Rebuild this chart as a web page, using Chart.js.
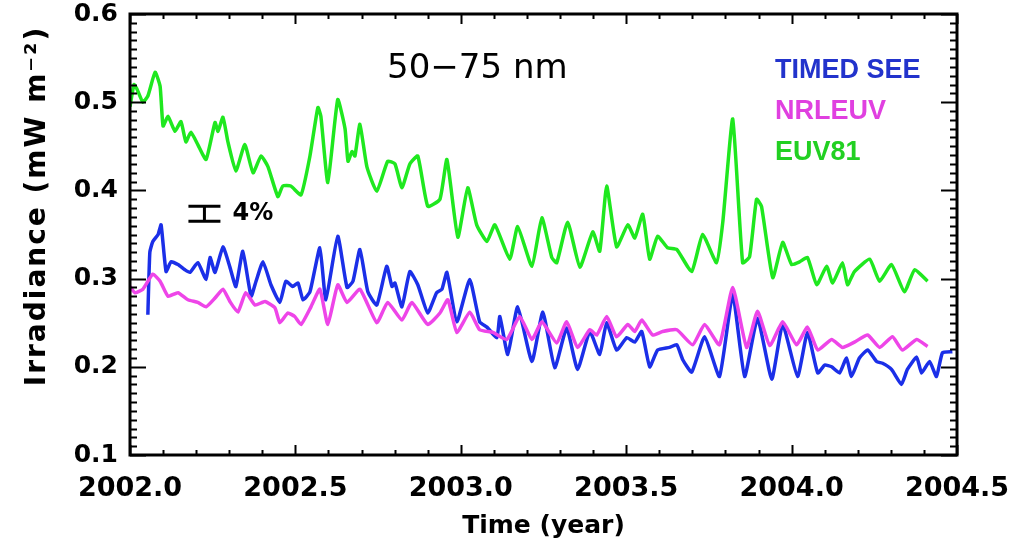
<!DOCTYPE html>
<html>
<head>
<meta charset="utf-8">
<script src="https://cdn.jsdelivr.net/npm/chart.js@4.4.1/dist/chart.umd.min.js"></script>
<style>
  html, body { margin: 0; padding: 0; background: #fff; }
  canvas { display: block; }
</style>
</head>
<body>
<canvas id="irrChart" width="1026" height="545"></canvas>
<script>
// TIMED SEE (blue)
const seeYears = [2002.054, 2002.060, 2002.069, 2002.085, 2002.094, 2002.109, 2002.124, 2002.145, 2002.166, 2002.181,
  2002.205, 2002.230, 2002.242, 2002.257, 2002.281, 2002.302, 2002.320, 2002.341, 2002.366, 2002.381,
  2002.402, 2002.426, 2002.453, 2002.471, 2002.492, 2002.508, 2002.523, 2002.544, 2002.574, 2002.592,
  2002.628, 2002.656, 2002.674, 2002.695, 2002.719, 2002.746, 2002.776, 2002.792, 2002.801, 2002.822,
  2002.846, 2002.870, 2002.900, 2002.927, 2002.943, 2002.958, 2002.988, 2003.027, 2003.057, 2003.079,
  2003.109, 2003.118, 2003.142, 2003.172, 2003.215, 2003.248, 2003.284, 2003.320, 2003.353, 2003.390,
  2003.420, 2003.441, 2003.471, 2003.502, 2003.526, 2003.547, 2003.571, 2003.595, 2003.631, 2003.653,
  2003.671, 2003.698, 2003.737, 2003.782, 2003.822, 2003.858, 2003.897, 2003.940, 2003.973, 2004.018,
  2004.048, 2004.079, 2004.100, 2004.121, 2004.145, 2004.166, 2004.181, 2004.205, 2004.230, 2004.257,
  2004.275, 2004.302, 2004.332, 2004.350, 2004.378, 2004.393, 2004.417, 2004.438, 2004.456, 2004.486];
const seeValues = [0.259, 0.330, 0.342, 0.350, 0.361, 0.308, 0.319, 0.316, 0.310, 0.307,
  0.318, 0.299, 0.324, 0.307, 0.336, 0.313, 0.291, 0.331, 0.280, 0.297,
  0.319, 0.293, 0.273, 0.297, 0.291, 0.295, 0.276, 0.285, 0.335, 0.276,
  0.348, 0.290, 0.297, 0.333, 0.285, 0.270, 0.314, 0.291, 0.295, 0.268,
  0.308, 0.293, 0.261, 0.284, 0.288, 0.307, 0.251, 0.299, 0.251, 0.245,
  0.233, 0.257, 0.214, 0.268, 0.206, 0.262, 0.199, 0.244, 0.197, 0.240,
  0.214, 0.250, 0.219, 0.233, 0.228, 0.240, 0.200, 0.219, 0.222, 0.225,
  0.208, 0.194, 0.234, 0.189, 0.282, 0.189, 0.255, 0.186, 0.248, 0.189,
  0.239, 0.193, 0.202, 0.200, 0.193, 0.210, 0.189, 0.210, 0.219, 0.206,
  0.204, 0.197, 0.180, 0.197, 0.211, 0.193, 0.206, 0.189, 0.216, 0.217];

// NRLEUV (magenta)
const nrlYears = [2002.000, 2002.015, 2002.039, 2002.069, 2002.091, 2002.115, 2002.145, 2002.175, 2002.205, 2002.230,
  2002.257, 2002.281, 2002.302, 2002.326, 2002.350, 2002.378, 2002.408, 2002.438, 2002.453, 2002.477,
  2002.498, 2002.517, 2002.547, 2002.574, 2002.598, 2002.628, 2002.656, 2002.695, 2002.746, 2002.779,
  2002.822, 2002.852, 2002.900, 2002.937, 2002.961, 2002.988, 2003.027, 2003.057, 2003.097, 2003.139,
  2003.178, 2003.215, 2003.245, 2003.290, 2003.320, 2003.353, 2003.390, 2003.411, 2003.441, 2003.471,
  2003.505, 2003.526, 2003.547, 2003.580, 2003.610, 2003.653, 2003.701, 2003.737, 2003.782, 2003.822,
  2003.864, 2003.897, 2003.934, 2003.973, 2004.015, 2004.048, 2004.079, 2004.121, 2004.154, 2004.190,
  2004.230, 2004.266, 2004.305, 2004.335, 2004.378, 2004.411];
const nrlValues = [0.291, 0.284, 0.288, 0.305, 0.297, 0.280, 0.284, 0.276, 0.273, 0.268,
  0.278, 0.288, 0.274, 0.262, 0.284, 0.270, 0.274, 0.267, 0.250, 0.261,
  0.257, 0.248, 0.268, 0.288, 0.248, 0.293, 0.273, 0.288, 0.250, 0.273,
  0.253, 0.273, 0.248, 0.261, 0.276, 0.239, 0.262, 0.242, 0.239, 0.231,
  0.257, 0.231, 0.251, 0.227, 0.251, 0.222, 0.242, 0.236, 0.257, 0.234,
  0.248, 0.240, 0.253, 0.236, 0.240, 0.242, 0.225, 0.248, 0.225, 0.290,
  0.222, 0.263, 0.224, 0.251, 0.225, 0.245, 0.219, 0.231, 0.222, 0.228,
  0.236, 0.222, 0.234, 0.219, 0.231, 0.223];

// EUV81 (green)
const euvYears = [2002.000, 2002.012, 2002.021, 2002.039, 2002.054, 2002.076, 2002.091, 2002.100, 2002.115, 2002.136,
  2002.154, 2002.169, 2002.184, 2002.205, 2002.230, 2002.257, 2002.266, 2002.281, 2002.296, 2002.320,
  2002.347, 2002.372, 2002.396, 2002.417, 2002.447, 2002.462, 2002.486, 2002.517, 2002.544, 2002.568,
  2002.577, 2002.598, 2002.628, 2002.650, 2002.659, 2002.671, 2002.680, 2002.695, 2002.716, 2002.746,
  2002.779, 2002.801, 2002.822, 2002.846, 2002.870, 2002.900, 2002.937, 2002.958, 2002.991, 2003.021,
  2003.048, 2003.079, 2003.103, 2003.148, 2003.172, 2003.215, 2003.245, 2003.275, 2003.290, 2003.323,
  2003.360, 2003.399, 2003.420, 2003.441, 2003.471, 2003.505, 2003.526, 2003.550, 2003.571, 2003.595,
  2003.625, 2003.653, 2003.698, 2003.731, 2003.773, 2003.792, 2003.822, 2003.852, 2003.873, 2003.894,
  2003.909, 2003.943, 2003.973, 2004.000, 2004.024, 2004.048, 2004.076, 2004.106, 2004.124, 2004.154,
  2004.169, 2004.190, 2004.236, 2004.266, 2004.302, 2004.341, 2004.372, 2004.411];
const euvValues = [0.495, 0.520, 0.515, 0.500, 0.507, 0.534, 0.518, 0.473, 0.484, 0.467,
  0.478, 0.455, 0.466, 0.452, 0.435, 0.477, 0.467, 0.483, 0.455, 0.422,
  0.452, 0.420, 0.439, 0.427, 0.393, 0.405, 0.405, 0.395, 0.439, 0.494,
  0.484, 0.409, 0.503, 0.470, 0.433, 0.444, 0.439, 0.475, 0.427, 0.399,
  0.433, 0.430, 0.403, 0.430, 0.439, 0.382, 0.390, 0.435, 0.347, 0.403,
  0.361, 0.342, 0.361, 0.322, 0.359, 0.314, 0.369, 0.324, 0.318, 0.364,
  0.313, 0.353, 0.331, 0.405, 0.336, 0.361, 0.346, 0.373, 0.322, 0.348,
  0.335, 0.333, 0.308, 0.350, 0.318, 0.364, 0.481, 0.318, 0.325, 0.390,
  0.382, 0.301, 0.341, 0.316, 0.319, 0.324, 0.293, 0.314, 0.295, 0.318,
  0.293, 0.308, 0.322, 0.297, 0.316, 0.285, 0.310, 0.297];

const seriesNames = ['TIMED SEE', 'NRLEUV', 'EUV81'];
const seriesColors = ['#1b2fe8', '#ee45e8', '#1fe81f'];
const legendColors = ['#2233cc', '#e040e0', '#22d022'];

const yTicks = [0.1, 0.2, 0.3, 0.4, 0.5, 0.6];
const xTicks = [2002.0, 2002.5, 2003.0, 2003.5, 2004.0, 2004.5];

const panelTitle = '50\u221275 nm';
const panelTitleAt = { x: 2003.05, y: 0.537 };
const errorBar = { x: 2002.225, low: 0.365, high: 0.382, text: '4%' };

function toPoints(xs, ys) {
  return xs.map((x, i) => ({ x: x, y: ys[i] }));
}

// inward ticks on all four sides + box frame, IDL style
const frameTicks = {
  id: 'frameTicks',
  afterDatasetsDraw(chart) {
    const { ctx, chartArea: a, scales: { x, y } } = chart;
    ctx.save();
    ctx.strokeStyle = '#000';
    ctx.lineWidth = 2;
    ctx.beginPath();
    const nx = Math.round((x.max - x.min) / 0.1);
    for (let i = 0; i <= nx; i++) {
      const px = Math.round(x.getPixelForValue(x.min + i * 0.1)) + 0.5;
      const len = i % 5 === 0 ? 10 : 5;
      ctx.moveTo(px, a.bottom); ctx.lineTo(px, a.bottom - len);
      ctx.moveTo(px, a.top); ctx.lineTo(px, a.top + len);
    }
    const ny = Math.round((y.max - y.min) / 0.01);
    for (let i = 0; i <= ny; i++) {
      const py = Math.round(y.getPixelForValue(y.min + i * 0.01)) + 0.5;
      const len = i % 10 === 0 ? 16 : 7;
      ctx.moveTo(a.left, py); ctx.lineTo(a.left + len, py);
      ctx.moveTo(a.right, py); ctx.lineTo(a.right - len, py);
    }
    ctx.stroke();
    ctx.lineWidth = 3;
    ctx.strokeRect(a.left, a.top, a.right - a.left, a.bottom - a.top);

    // error bar marker
    const bx = x.getPixelForValue(errorBar.x);
    const yl = y.getPixelForValue(errorBar.low);
    const yh = y.getPixelForValue(errorBar.high);
    ctx.lineWidth = 3;
    ctx.beginPath();
    ctx.moveTo(bx - 16, yh); ctx.lineTo(bx + 16, yh);
    ctx.moveTo(bx - 16, yl); ctx.lineTo(bx + 16, yl);
    ctx.moveTo(bx, yh); ctx.lineTo(bx, yl);
    ctx.stroke();
    ctx.fillStyle = '#000';
    ctx.font = 'bold 24px "DejaVu Sans"';
    ctx.textAlign = 'left';
    ctx.textBaseline = 'middle';
    ctx.fillText(errorBar.text, bx + 28, (yl + yh) / 2);

    // panel title
    ctx.font = '34px "DejaVu Sans"';
    ctx.textAlign = 'center';
    ctx.fillText(panelTitle, x.getPixelForValue(panelTitleAt.x), y.getPixelForValue(panelTitleAt.y));

    // legend as coloured text
    ctx.font = 'bold 27px "Liberation Sans"';
    ctx.textAlign = 'left';
    chart.data.datasets.forEach((ds, i) => {
      ctx.fillStyle = legendColors[i];
      ctx.fillText(ds.label, a.right - 182, 71 + i * 41);
    });

    // y axis title, rotated
    ctx.translate(38, 206);
    ctx.rotate(-Math.PI / 2);
    ctx.fillStyle = '#000';
    ctx.font = 'bold 28px "DejaVu Sans"';
    ctx.letterSpacing = '2px';
    ctx.textAlign = 'center';
    ctx.fillText('Irradiance (mW m\u207B\u00B2)', 0, 0);
    ctx.restore();
  }
};

const ctx = document.getElementById('irrChart').getContext('2d');

new Chart(ctx, {
  type: 'line',
  data: {
    datasets: [
      { label: seriesNames[0], data: toPoints(seeYears, seeValues), borderColor: seriesColors[0], order: 1 },
      { label: seriesNames[1], data: toPoints(nrlYears, nrlValues), borderColor: seriesColors[1], order: 0 },
      { label: seriesNames[2], data: toPoints(euvYears, euvValues), borderColor: seriesColors[2], order: 2 }
    ]
  },
  options: {
    responsive: false,
    animation: false,
    parsing: false,
    layout: { padding: { top: 14, right: 69, left: 0, bottom: 0 } },
    elements: {
      line: { borderWidth: 3.5, tension: 0.15, fill: false },
      point: { radius: 0 }
    },
    plugins: {
      legend: { display: false },
      tooltip: { enabled: false }
    },
    scales: {
      x: {
        type: 'linear',
        min: 2002.0,
        max: 2004.5,
        afterFit: s => { s.height = 90; s.paddingLeft = 0; s.paddingRight = 0; },
        afterBuildTicks: s => { s.ticks = xTicks.map(v => ({ value: v })); },
        grid: { display: false, drawTicks: false },
        border: { display: false },
        ticks: {
          autoSkip: false,
          maxRotation: 0,
          padding: 18,
          color: '#000',
          font: { family: 'DejaVu Sans', size: 27, weight: 'bold' },
          callback: v => v.toFixed(1)
        },
        title: {
          display: true,
          text: 'Time (year)',
          color: '#000',
          font: { family: 'DejaVu Sans', size: 25, weight: 'bold' },
          padding: { top: 0, bottom: 4 }
        }
      },
      y: {
        type: 'linear',
        min: 0.1,
        max: 0.6,
        afterFit: s => { s.width = 130; s.paddingTop = 0; s.paddingBottom = 0; },
        afterBuildTicks: s => { s.ticks = yTicks.map(v => ({ value: v })); },
        grid: { display: false, drawTicks: false },
        border: { display: false },
        ticks: {
          padding: 12,
          color: '#000',
          font: { family: 'DejaVu Sans', size: 25, weight: 'bold' },
          callback: v => v.toFixed(1)
        }
      }
    }
  },
  plugins: [frameTicks]
});
</script>
</body>
</html>
